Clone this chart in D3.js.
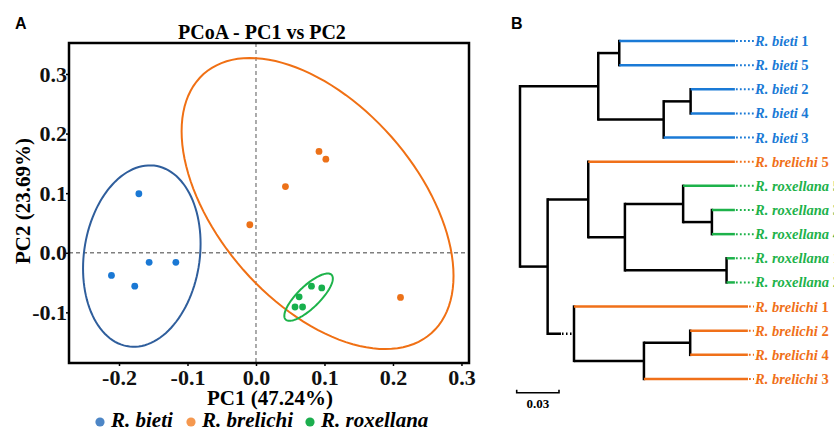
<!DOCTYPE html>
<meta charset="utf-8">
<script src="https://d3js.org/d3.v7.min.js"></script>
<style>
  body { margin: 0; background: #fff; }
  text { font-family: "Liberation Serif", "Times New Roman", serif; font-weight: bold; }
</style>
<div id="chart"></div>
<script>

// ---- PCoA data ----
var species = ["R. bieti", "R. brelichi", "R. roxellana"];
var bietiX = [-0.171, -0.156, -0.117, -0.211, -0.177];
var bietiY = [0.099, -0.016, -0.016, -0.038, -0.056];
var brelichiX = [0.092, 0.102, 0.043, -0.009, 0.211];
var brelichiY = [0.170, 0.157, 0.111, 0.047, -0.075];
var roxX = [0.081, 0.096, 0.063, 0.057, 0.068];
var roxY = [-0.056, -0.059, -0.074, -0.091, -0.091];

// ellipse: x = cx + a*cos t ; y = cy + b*cos t + d*sin t  (data units)
var ellCx = [-0.1667, 0.0899, 0.0768];
var ellCy = [-0.0056, 0.0826, -0.0745];
var ellA = [0.0858, 0.1985, 0.0354];
var ellB = [0.0208, -0.1214, 0.0313];
var ellD = [0.1508, 0.2119, 0.0244];

var xTicks = [-0.2, -0.1, 0.0, 0.1, 0.2, 0.3];
var yTicks = [-0.1, 0.0, 0.1, 0.2, 0.3];

// ---- tree data (parent table with branch lengths) ----
var nodeIds = ["root", "bietiClade", "b15", "bieti1", "bieti5", "b243", "b24", "bieti2", "bieti4", "bieti3",
  "lower", "b5rox", "brelichi5", "roxAll", "r534", "rox5", "r34", "rox3", "rox4", "r12", "rox1", "rox2",
  "brGrp", "brelichi1", "br243", "br24", "brelichi2", "brelichi4", "brelichi3"];
var nodeParents = ["", "root", "bietiClade", "b15", "b15", "bietiClade", "b243", "b24", "b24", "b243",
  "root", "lower", "b5rox", "b5rox", "roxAll", "r534", "r534", "r34", "r34", "roxAll", "r12", "r12",
  "lower", "brGrp", "brGrp", "br243", "br24", "br24", "br243"];
var branchLen = [0, 0.0555, 0.0149, 0.0821, 0.0821, 0.0464, 0.0191, 0.0314, 0.0314, 0.0506,
  0.0196, 0.0288, 0.1040, 0.0260, 0.0413, 0.0367, 0.0204, 0.0163, 0.0163, 0.0721, 0.0059, 0.0059,
  0.0187, 0.1234, 0.0496, 0.0328, 0.0409, 0.0409, 0.0738];
var leafSpecies = {bieti1: 0, bieti5: 0, bieti2: 0, bieti4: 0, bieti3: 0, brelichi5: 1,
  rox5: 2, rox3: 2, rox4: 2, rox1: 2, rox2: 2, brelichi1: 1, brelichi2: 1, brelichi4: 1, brelichi3: 1};
var leafNumber = {bieti1: "1", bieti5: "5", bieti2: "2", bieti4: "4", bieti3: "3", brelichi5: "5",
  rox5: "5", rox3: "3", rox4: "4", rox1: "1", rox2: "2", brelichi1: "1", brelichi2: "2", brelichi4: "4", brelichi3: "3"};

var pointColor = ["#1a78d4", "#ec7118", "#17b04c"];
var legendColor = ["#4d86c6", "#f5984f", "#1cae4e"];
var ellColor = ["#2f5e9c", "#f07014", "#1db34a"];
var treeColor = ["#1a7ad6", "#f07019", "#1db24a"];

var width = 834, height = 431;
var svg = d3.select("#chart").append("svg")
  .attr("width", width).attr("height", height);

// ================= panel A =================
var x = d3.scaleLinear().domain([-0.273, 0.311]).range([69, 469]);
var y = d3.scaleLinear().domain([-0.185, 0.352]).range([363, 43]);

svg.append("text").attr("x", 15).attr("y", 29)
  .style("font-family", "'Liberation Sans', Arial, sans-serif")
  .style("font-size", "16px").text("A");

svg.append("text").attr("x", 262).attr("y", 39).attr("text-anchor", "middle")
  .style("font-size", "20px").text("PCoA - PC1 vs PC2");

// zero lines
svg.append("line").attr("x1", x(0)).attr("x2", x(0)).attr("y1", y.range()[1]).attr("y2", y.range()[0])
  .attr("stroke", "#7f7f7f").attr("stroke-width", 1.3).attr("stroke-dasharray", "4,3");
svg.append("line").attr("x1", x.range()[0]).attr("x2", x.range()[1]).attr("y1", y(0)).attr("y2", y(0))
  .attr("stroke", "#7f7f7f").attr("stroke-width", 1.3).attr("stroke-dasharray", "4,3");

// ellipses
var tSteps = d3.range(0, 361, 3).map(function(d) { return d * Math.PI / 180; });
var ellLine = d3.line().curve(d3.curveLinearClosed);
for (var i = 0; i < 3; i++) {
  var pts = tSteps.map(function(t) {
    return [x(ellCx[i] + ellA[i] * Math.cos(t)), y(ellCy[i] + ellB[i] * Math.cos(t) + ellD[i] * Math.sin(t))];
  });
  svg.append("path").attr("d", ellLine(pts)).attr("fill", "none")
    .attr("stroke", ellColor[i]).attr("stroke-width", 2);
}

// points
var groupsX = [bietiX, brelichiX, roxX];
var groupsY = [bietiY, brelichiY, roxY];
groupsX.forEach(function(xs, g) {
  svg.append("g").selectAll("circle").data(xs).enter().append("circle")
    .attr("cx", function(d) { return x(d); })
    .attr("cy", function(d, j) { return y(groupsY[g][j]); })
    .attr("r", 3.4).attr("fill", pointColor[g]);
});

// frame
svg.append("rect").attr("x", 69).attr("y", 43).attr("width", 400).attr("height", 320)
  .attr("fill", "none").attr("stroke", "#000").attr("stroke-width", 2.5);

var fmt = function(d) { return d.toFixed(1); };
var gx = svg.append("g").attr("transform", "translate(0,363)")
  .call(d3.axisBottom(x).tickValues(xTicks).tickFormat(fmt).tickSize(3).tickPadding(3));
var gy = svg.append("g").attr("transform", "translate(69,0)")
  .call(d3.axisLeft(y).tickValues(yTicks).tickFormat(fmt).tickSize(3).tickPadding(-1));
[gx, gy].forEach(function(g) {
  g.select(".domain").remove();
  g.selectAll("line").attr("stroke", "#000").attr("stroke-width", 1.5);
  g.selectAll("text").attr("fill", "#111")
    .style("font-family", "'Liberation Serif', serif")
    .style("font-weight", "bold").style("font-size", "22px");
});

svg.append("text").attr("x", 270).attr("y", 405).attr("text-anchor", "middle")
  .style("font-size", "21px").text("PC1 (47.24%)");
svg.append("text").attr("transform", "translate(30,201) rotate(-90)").attr("text-anchor", "middle")
  .style("font-size", "21px").text("PC2 (23.69%)");

// legend
var legX = [100, 191, 310];
species.forEach(function(s, i) {
  svg.append("circle").attr("cx", legX[i]).attr("cy", 422).attr("r", 4.6).attr("fill", legendColor[i]);
  svg.append("text").attr("x", legX[i] + 11).attr("y", 427)
    .style("font-size", "21px").style("font-style", "italic").text(s);
});

// ================= panel B =================
svg.append("text").attr("x", 511).attr("y", 29)
  .style("font-family", "'Liberation Sans', Arial, sans-serif")
  .style("font-size", "16px").text("B");

var table = nodeIds.map(function(id, i) { return {id: id, parent: nodeParents[i], len: branchLen[i]}; });
var root = d3.stratify().id(function(d) { return d.id; }).parentId(function(d) { return d.parent || null; })(table);
root.each(function(n) { n.depthLen = n.parent ? n.parent.depthLen + n.data.len : 0; });

var leaves = root.leaves();
var tx = d3.scaleLinear().domain([0, 0.15]).range([520, 731.5]);
var ty = d3.scalePoint().domain(leaves.map(function(d) { return d.id; })).range([41, 379]);
root.eachAfter(function(n) {
  n.py = n.children ? d3.mean(n.children, function(c) { return c.py; }) : ty(n.id);
});

var labelX = 755;
var tg = svg.append("g").attr("stroke-width", 2.5).attr("fill", "none");

root.descendants().forEach(function(n) {
  if (n.children) {
    tg.append("line").attr("x1", tx(n.depthLen)).attr("x2", tx(n.depthLen))
      .attr("y1", n.children[0].py).attr("y2", n.children[n.children.length - 1].py)
      .attr("stroke", "#000").attr("stroke-linecap", "square");
  }
  if (n.parent) {
    var col = n.children ? "#000" : treeColor[leafSpecies[n.id]];
    var x0 = tx(n.parent.depthLen), x1 = tx(n.depthLen);
    if (n.id === "brGrp") {
      tg.append("line").attr("x1", x0).attr("x2", x1 - 13).attr("y1", n.py).attr("y2", n.py).attr("stroke", col);
      tg.append("line").attr("x1", x1 - 12).attr("x2", x1).attr("y1", n.py).attr("y2", n.py)
        .attr("stroke", col).attr("stroke-dasharray", "1.5,2.5");
    } else {
      tg.append("line").attr("x1", x0).attr("x2", x1).attr("y1", n.py).attr("y2", n.py).attr("stroke", col);
    }
  }
});

leaves.forEach(function(n) {
  var s = leafSpecies[n.id];
  tg.append("line").attr("x1", tx(n.depthLen) + 1).attr("x2", labelX - 1)
    .attr("y1", n.py).attr("y2", n.py)
    .attr("stroke", treeColor[s]).attr("stroke-width", 2).attr("stroke-dasharray", "1.8,2.2");
  var t = svg.append("text").attr("x", labelX).attr("y", n.py + 5)
    .attr("fill", treeColor[s]).style("font-size", "14.5px");
  t.append("tspan").style("font-style", "italic").text(species[s]);
  t.append("tspan").text(" " + leafNumber[n.id]);
});

// scale bar
var sbX = 516.7, sbY = 392.7;
var sbW = tx(0.03) - tx(0);
svg.append("path")
  .attr("d", "M" + sbX + "," + (sbY - 3) + "V" + sbY + "H" + (sbX + sbW) + "V" + (sbY - 3))
  .attr("fill", "none").attr("stroke", "#000").attr("stroke-width", 1.6);
svg.append("text").attr("x", sbX + sbW / 2).attr("y", 408).attr("text-anchor", "middle")
  .style("font-size", "13px").text("0.03");

</script>
